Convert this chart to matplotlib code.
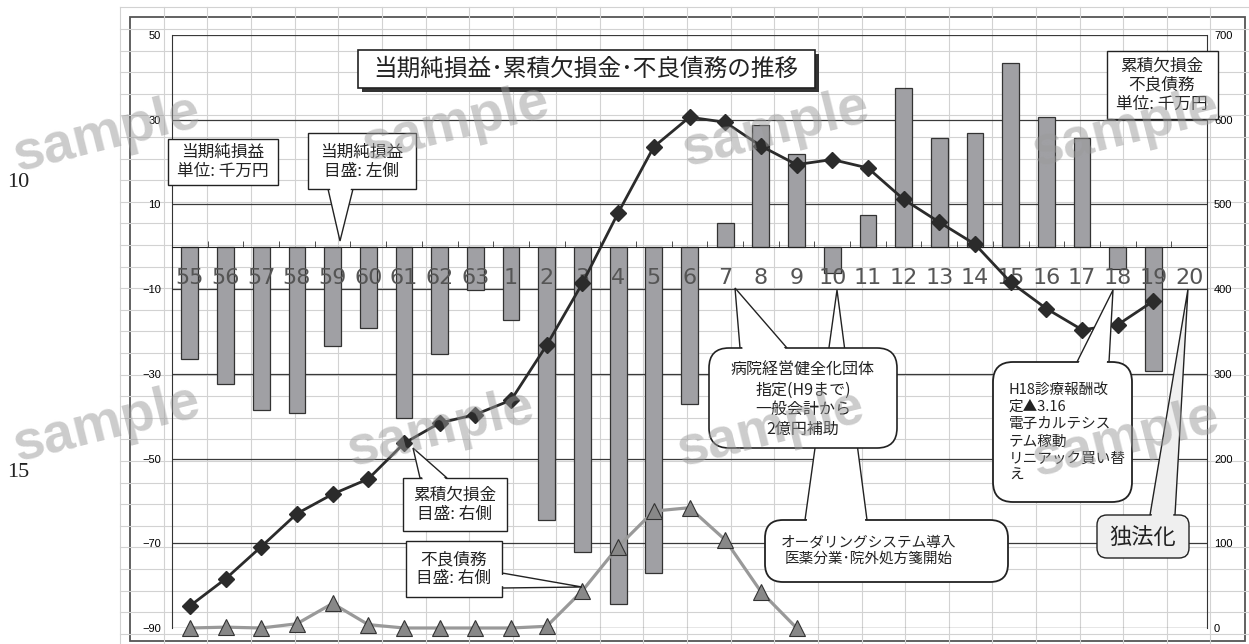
import numpy as np
import matplotlib
matplotlib.use('Agg')
import matplotlib.pyplot as plt
from matplotlib.patches import Rectangle, FancyBboxPatch, Polygon

plt.rcParams['font.family'] = ['Noto Sans CJK JP', 'DejaVu Sans']

## data ##
years = ['55', '56', '57', '58', '59', '60', '61', '62', '63',
         '1', '2', '3', '4', '5', '6', '7', '8', '9', '10',
         '11', '12', '13', '14', '15', '16', '17', '18', '19', '20']

# 当期純損益 (left axis, 千万円)
net_profit = [-26.5, -32.3, -38.5, -39.3, -23.4, -19.2, -40.5, -25.3, -10.2,
              -17.2, -64.4, -72.0, -84.3, -77.0, -37.1, 5.6, 28.7, 21.8, -6.1,
              7.6, 37.6, 25.7, 26.8, 43.5, 30.7, 25.7, -5.3, -29.3, np.nan]

# 累積欠損金 (right axis)
cum_deficit = [26, 58, 96, 135, 158, 176, 218, 242, 252,
               269, 334, 407, 490, 568, 603, 597, 569, 547, 553,
               543, 506, 479, 453, 408, 377, 352, 358, 386, np.nan]

# 不良債務 (right axis)
bad_debt = [0, 1, 0, 5, 29, 4, 0, 0, 0,
            0, 2, 44, 96, 138, 142, 104, 43, 0] + [np.nan] * 11

left_ticks = np.arange(-90, 51, 20)
right_ticks = np.arange(0, 701, 100)

W, H = 1249, 644
fig = plt.figure(figsize=(W / 100, H / 100), dpi=100)

### spreadsheet background + chart frame ###
bg = fig.add_axes([0, 0, 1, 1], zorder=0)
bg.set_xlim(0, W)
bg.set_ylim(H, 0)
bg.axis('off')
for gx in np.arange(120.3, W, 43.6):
    bg.plot([gx, gx], [7, H], color='#d2d2d2', lw=0.8)
for gy in np.arange(7.3, H, 21.6):
    bg.plot([120.3, W], [gy, gy], color='#d2d2d2', lw=0.8)
bg.add_patch(Rectangle((130.5, 16.5), 1245 - 130.5, 641 - 16.5,
                       fc='white', ec='#555555', lw=1.3))

### main axes ###
ax = fig.add_axes([172 / W, (H - 628) / H, (1207 - 172) / W, (628 - 35) / H], zorder=1)
ax.patch.set_visible(False)
ax.set_axisbelow(False)
x = np.arange(len(years))
for yv in left_ticks:
    ax.axhline(yv, color='#3a3a3a', lw=0.9, zorder=1)
ax.bar(x, net_profit, width=0.47, color='#a0a0a4', edgecolor='#333333', lw=0.9, zorder=2)
ax.set_xlim(-0.5, len(years) - 0.5)
ax.set_ylim(-90, 50)
ax.set_yticks(left_ticks)
for s in ['top', 'right']:
    ax.spines[s].set_visible(False)
ax.spines['bottom'].set_position(('data', 0))
ax.spines['bottom'].set_color('#222222')
ax.spines['left'].set_color('#333333')
ax.set_xticks(x)
ax.set_xticklabels(years, fontsize=16, color='#555555',
                   family=['Liberation Sans Narrow', 'DejaVu Sans'])
ax.set_xticks(x[:-1] + 0.5, minor=True)
ax.tick_params(axis='x', which='major', length=0, pad=15)
ax.tick_params(axis='x', which='minor', direction='in', length=4, color='#333333')
ax.tick_params(axis='y', length=0, pad=8, labelsize=8)
for t in ax.get_yticklabels():
    t.set_family('Liberation Sans')

ax2 = ax.twinx()
ax2.set_zorder(2)
ax2.patch.set_visible(False)
ax2.set_ylim(0, 700)
ax2.set_yticks(right_ticks)
ax2.tick_params(axis='y', length=0, pad=5, labelsize=8)
for t in ax2.get_yticklabels():
    t.set_family('Liberation Sans')
for s in ['top', 'bottom', 'left']:
    ax2.spines[s].set_visible(False)
ax2.spines['right'].set_color('#333333')

ax2.plot(x, bad_debt, color='#999999', lw=2.3, marker='^', ms=11,
         mfc='#888888', mec='#333333', mew=0.8, zorder=3, clip_on=False)
ax2.plot(x, cum_deficit, color='#2b2b2b', lw=2.0, marker='D', ms=8.5,
         mfc='#2b2b2b', mec='#2b2b2b', zorder=4, clip_on=False)

### annotation layer (pixel coords) ###
deco = fig.add_axes([0, 0, 1, 1], zorder=3)
deco.set_xlim(0, W)
deco.set_ylim(H, 0)
deco.axis('off')
deco.patch.set_visible(False)


def box(x0, y0, x1, y1, rounded=0, fc='white', lw=1.0, z=5):
    if rounded:
        p = FancyBboxPatch((x0, y0), x1 - x0, y1 - y0,
                           boxstyle='round,pad=0,rounding_size=%d' % rounded,
                           fc=fc, ec='#222222', lw=lw, zorder=z)
    else:
        p = Rectangle((x0, y0), x1 - x0, y1 - y0, fc=fc, ec='#222222', lw=lw, zorder=z)
    deco.add_patch(p)


def pointer(b1, b2, tip, fc='white', z=5):
    deco.add_patch(Polygon([b1, tip, b2], closed=True, fc=fc, ec='#222222',
                           lw=1.0, zorder=z - 0.5, joinstyle='miter'))
    b1, b2, tip = np.array(b1, float), np.array(b2, float), np.array(tip, float)
    mid = (b1 + b2) / 2
    out = (tip - mid) / np.linalg.norm(tip - mid)
    along = (b2 - b1) / np.linalg.norm(b2 - b1)
    c1 = b1 + along * 1.6 - out * 2.5
    c2 = b2 - along * 1.6 - out * 2.5
    d1 = b1 + 0.35 * (tip - b1) + along * 1.6
    d2 = b2 + 0.35 * (tip - b2) - along * 1.6
    deco.add_patch(Polygon([c1, d1, d2, c2], closed=True, fc=fc, ec='none', zorder=z + 0.5))


def label(xc, yc, s, fs=12, z=6, **kw):
    kw.setdefault('ha', 'center')
    deco.text(xc, yc, s, fontsize=fs, va='center', zorder=z, color='#222222', **kw)


# title
deco.add_patch(Rectangle((362, 54), 457, 38, fc='#333333', ec='none', zorder=4))
box(358, 50, 815, 88, lw=1.2)
label(586, 69, '当期純損益･累積欠損金･不良債務の推移', fs=17)

# unit boxes
box(168, 139, 278, 185)
label(223, 162, '当期純損益\n単位: 千万円', linespacing=1.15)
box(1107, 51, 1218, 119)
label(1162, 85, '累積欠損金\n不良債務\n単位: 千万円', linespacing=1.15)

# scale callouts
pointer((328, 189), (353, 189), (340, 241))
box(308, 133, 416, 189)
label(362, 162, '当期純損益\n目盛: 左側', linespacing=1.15)

pointer((420, 478), (447, 478), (413, 448))
box(403, 478, 507, 531)
label(455, 505, '累積欠損金\n目盛: 右側', linespacing=1.15)

pointer((502, 573), (502, 588), (582, 587))
box(406, 541, 502, 597)
label(454, 569, '不良債務\n目盛: 右側', linespacing=1.15)

# event callouts
pointer((805, 520), (867, 520), (837, 290), z=5)
box(765, 520, 1008, 582, rounded=18, lw=1.3, z=5)
label(869, 551, 'オーダリングシステム導入\n医薬分業･院外処方箋開始', fs=10.5, z=6, linespacing=1.2)

pointer((740, 348), (787, 348), (735, 288), z=8)
box(709, 348, 897, 448, rounded=20, lw=1.2, z=8)
label(803, 400, '病院経営健全化団体\n指定(H9まで)\n一般会計から\n2億円補助', fs=11.5, z=9, linespacing=1.2)

pointer((1077, 362), (1109, 362), (1113, 290), z=8)
box(993, 362, 1132, 502, rounded=20, lw=1.3, z=8)
label(1009, 433, 'H18診療報酬改\n定▲3.16\n電子カルテシス\nテム稼動\nリニアック買い替\nえ',
      fs=10.5, z=9, ha='left', linespacing=1.3)

pointer((1150, 515), (1175, 515), (1188, 289), fc='#efefef', z=8)
box(1097, 515, 1189, 558, rounded=10, fc='#efefef', z=8)
label(1143, 537, '独法化', fs=16, z=9)

# page line numbers in the margin
for yy, s in [(182, '10'), (472, '15')]:
    deco.text(18, yy, s, fontsize=16, ha='center', va='center',
              family=['Liberation Serif', 'DejaVu Serif'], color='#222222')

# sample watermarks
for wx, wy in [(106, 135), (455, 125), (775, 130), (1125, 130),
               (106, 425), (440, 430), (770, 430), (1125, 440)]:
    deco.text(wx, wy, 'sample', fontsize=40, fontweight='bold', color='#9a9a9a',
              alpha=0.5, rotation=14, ha='center', va='center',
              family=['Liberation Sans', 'DejaVu Sans'], zorder=20)

fig.savefig('out.png', dpi=100)
